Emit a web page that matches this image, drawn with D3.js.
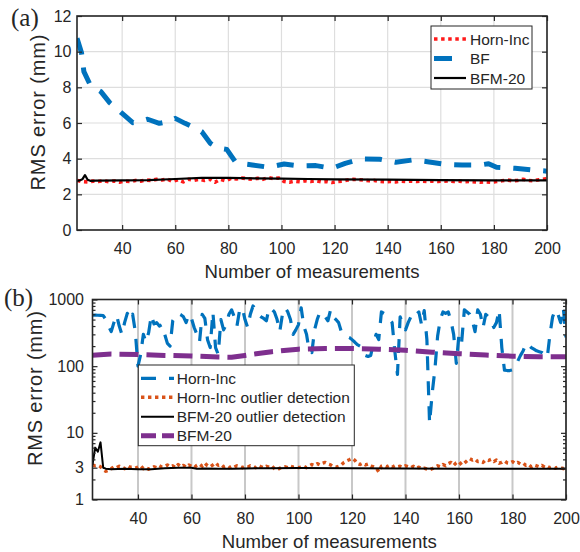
<!DOCTYPE html>
<html><head><meta charset="utf-8">
<script src="https://cdn.jsdelivr.net/npm/d3@7"></script>
<style>
html,body{margin:0;padding:0;background:#fff;}
svg{display:block;}
text{fill:#262626;}
</style></head><body>
<script>
// ---------------- DATA ----------------
// Panel (a)
const xTicksA = [40, 60, 80, 100, 120, 140, 160, 180, 200];
const yTicksA = [0, 2, 4, 6, 8, 10, 12];
const bfX = [23,24.7,25.6,28,32,35.3,40,44,46,49.6,54,58,60,63.7,67,70,73.2,76,79.4,82.6,86,89,95,101,107,113,119,124,130,137,143,149.5,155,162,168,175,178,181,188,194,200];
const bfY = [10.75,9.94,8.88,8.13,7.76,7.14,6.54,6.02,6.05,6.21,5.98,6.10,6.26,5.98,5.75,5.51,4.86,4.60,4.52,3.83,3.70,3.65,3.52,3.70,3.59,3.61,3.46,3.74,3.98,3.97,3.80,3.93,3.83,3.68,3.65,3.65,3.72,3.52,3.46,3.37,3.30];
const hornAX = [23,25,27,29,31,33,35,37,39,41,43,45,47,49,51,53,55,57,59,61,63,65,67,69,71,73,75,77,79,81,83,85,87,89,91,93,95,97,99,101,103,105,107,109,111,113,115,117,119,121,123,125,127,129,131,133,135,137,139,141,143,145,147,149,151,153,155,157,159,161,163,165,167,169,171,173,175,177,179,181,183,185,187,189,191,193,195,197,199,200];
const hornAY = [2.78,2.72,2.70,2.74,2.72,2.76,2.70,2.75,2.68,2.74,2.72,2.78,2.74,2.80,2.78,2.84,2.80,2.86,2.72,2.82,2.70,2.84,2.78,2.84,2.78,2.85,2.68,2.84,2.76,2.90,2.86,2.92,2.88,2.84,2.90,2.84,2.94,2.88,2.92,2.72,2.68,2.74,2.70,2.76,2.72,2.76,2.70,2.72,2.66,2.72,2.74,2.80,2.84,2.82,2.80,2.76,2.78,2.72,2.70,2.72,2.70,2.74,2.72,2.74,2.72,2.74,2.72,2.74,2.72,2.74,2.76,2.72,2.74,2.70,2.72,2.70,2.68,2.70,2.68,2.72,2.76,2.80,2.76,2.78,2.84,2.78,2.76,2.82,2.86,2.88];
const bfmAX = [23,24,25,26,27,28,30,40,50,60,70,80,90,100,110,120,140,160,180,200];
const bfmAY = [2.75,2.78,2.84,3.08,2.82,2.76,2.77,2.78,2.80,2.86,2.92,2.92,2.90,2.88,2.86,2.84,2.82,2.80,2.78,2.78];

// Panel (b)
const xTicksB = [40, 60, 80, 100, 120, 140, 160, 180, 200];
const yTicksB = [1, 3, 10, 100, 1000];
const yMinorB = [2,4,5,6,7,8,9,20,30,40,50,60,70,80,90,200,300,400,500,600,700,800,900];
const measStartB = 23; // first measurement index of the per-measurement series
const hornB = [
580,585,580,578,575,500,400,330,
450,580,400,300,450,620,500,600,330,100,
150,300,230,320,580,430,450,400,420,300,
220,200,480,550,620,590,550,450,600,520,
380,300,230,600,520,250,190,650,190,150,
500,350,420,600,700,550,400,700,750,500,
380,600,800,700,600,550,520,480,750,720,
650,500,330,600,750,650,500,300,350,420,
750,400,300,170,160,350,500,650,600,550,
480,700,550,500,450,330,300,280,270,250,
230,210,200,160,145,140,145,220,300,250,
650,620,550,500,450,170,75,550,420,350,
450,550,650,600,650,420,680,250,14,40,
90,280,500,650,620,650,480,300,110,300,
230,700,650,600,480,330,700,600,380,600,
550,500,380,450,700,190,87,86,86,88,
100,120,145,170,220,210,190,180,170,165,
160,150,135,300,550,700,600,450,750,270];
const hornOutB = [
3.3,3.2,3.25,3.1,2.8,2.65,2.75,2.9,
3.1,3.0,3.15,3.0,2.9,3.2,3.05,3.1,2.95,3.05,
3.2,2.9,3.0,2.85,2.95,3.1,3.0,3.2,3.05,3.15,
3.3,3.1,3.2,3.0,3.35,3.1,3.25,3.05,3.3,3.15,
3.0,3.25,3.4,3.15,3.5,3.2,3.1,3.3,3.55,3.25,
3.35,3.1,3.2,3.0,3.15,3.05,3.2,3.1,3.0,3.15,
3.05,3.2,3.1,3.0,3.25,3.1,3.0,3.15,3.05,3.2,
2.9,2.8,2.95,3.05,3.1,3.0,3.15,3.05,3.1,3.0,
3.05,3.15,3.0,3.2,3.35,3.25,3.45,3.3,3.5,3.6,
3.4,3.3,3.1,3.05,3.15,3.3,3.6,3.8,3.95,4.15,
3.9,3.45,3.35,3.5,3.3,3.4,3.15,3.1,3.0,2.6,
3.15,3.2,3.1,3.25,3.05,3.2,3.1,3.15,3.05,3.2,
3.1,3.0,3.15,2.95,3.05,2.9,2.95,2.85,2.8,2.9,
3.05,3.2,3.1,3.35,3.2,3.45,3.6,3.25,3.55,3.7,
3.3,3.5,3.8,4.1,3.9,4.05,3.7,3.75,3.6,3.95,
3.85,4.0,3.7,3.9,3.5,3.6,3.8,3.55,3.5,3.7,
3.45,3.6,3.4,3.5,3.25,3.35,3.1,3.3,3.2,3.1,
3.25,3.05,3.15,3.0,3.1,2.95,3.05,3.0,2.9,3.0];
const bfmOutX = [23,24,25,26,27,28,30,35,40,45,50,55,60,62,65,70,75,80,90,100,120,140,160,180,200];
const bfmOutY = [3.3,6.0,5.2,7.2,3.0,2.9,2.85,2.9,2.85,2.85,2.95,3.0,3.0,2.9,2.92,2.9,2.9,2.92,2.95,2.98,2.95,2.92,2.9,2.9,2.9];
const bfmBX = [23,30,40,50,60,70,75,80,90,100,110,120,130,140,150,160,170,180,190,200];
const bfmBY = [146,152,150,145,142,137,136,145,165,180,184,184,180,173,162,154,147,141,139,138];

// ---------------- DRAW ----------------
const SANS = '"Liberation Sans",Arial,Helvetica,sans-serif';
const SERIF = '"Liberation Serif","Times New Roman",serif';
const svg = d3.select("body").append("svg").attr("width",580).attr("height",552)
  .style("font-family", SANS);
svg.append("rect").attr("width",580).attr("height",552).attr("fill","#fff");
const AX = "#262626";
const toPts = (xs, ys) => xs.map((x,i)=>({x, y: ys[i]}));

function panel(id, box, x, y, xTicks, yTicks, gridY, gridStyle) {
  const g = svg.append("g");
  g.append("clipPath").attr("id", id).append("rect")
    .attr("x", box.l).attr("y", box.t).attr("width", box.r-box.l).attr("height", box.b-box.t);
  g.selectAll(null).data(xTicks).join("line")
    .attr("x1", d=>x(d)).attr("x2", d=>x(d)).attr("y1", box.t).attr("y2", box.b)
    .attr("stroke", gridStyle.c).attr("stroke-width", gridStyle.w);
  if (gridY) g.selectAll(null).data(yTicks).join("line")
    .attr("y1", d=>y(d)).attr("y2", d=>y(d)).attr("x1", box.l).attr("x2", box.r)
    .attr("stroke", gridStyle.c).attr("stroke-width", gridStyle.w);
  return g;
}
function frame(box, x, y, xTicks, yTicks, yPad, yFmt, yMinor) {
  const g = svg.append("g").style("color", AX);
  g.append("g").attr("transform",`translate(0,${box.b})`).call(d3.axisBottom(x).tickValues(xTicks).tickSize(-5).tickPadding(13));
  g.append("g").attr("transform",`translate(0,${box.t})`).call(d3.axisTop(x).tickValues(xTicks).tickSize(-5).tickFormat(""));
  g.append("g").attr("transform",`translate(${box.l},0)`).call(d3.axisLeft(y).tickValues(yTicks).tickSize(-5).tickPadding(yPad).tickFormat(yFmt));
  g.append("g").attr("transform",`translate(${box.r},0)`).call(d3.axisRight(y).tickValues(yTicks).tickSize(-5).tickFormat(""));
  if (yMinor) {
    g.append("g").attr("transform",`translate(${box.l},0)`).call(d3.axisLeft(y).tickValues(yMinor).tickSize(-3).tickFormat(""));
    g.append("g").attr("transform",`translate(${box.r},0)`).call(d3.axisRight(y).tickValues(yMinor).tickSize(-3).tickFormat(""));
  }
  g.selectAll(".domain").remove();
  g.selectAll(".tick line").attr("stroke-width", 1.2);
  g.selectAll(".tick text").attr("font-size", 16).attr("fill", AX).style("font-family", SANS);
  g.append("rect").attr("x", box.l).attr("y", box.t).attr("width", box.r-box.l).attr("height", box.b-box.t)
    .attr("fill","none").attr("stroke", AX).attr("stroke-width", 1.6);
}
function series(pts, x, y, clip, color, width, dash) {
  const line = d3.line().x(d=>x(d.x)).y(d=>y(d.y));
  svg.append("path").datum(pts).attr("clip-path", `url(#${clip})`)
    .attr("d", line).attr("fill","none").attr("stroke", color).attr("stroke-width", width)
    .attr("stroke-dasharray", dash || null).attr("stroke-linejoin","round");
}
function legend(box, rowsY, sx1, sx2, tx, items) {
  const g = svg.append("g");
  g.append("rect").attr("x", box.x).attr("y", box.y).attr("width", box.w).attr("height", box.h)
    .attr("fill","#fff").attr("stroke", AX).attr("stroke-width", 1);
  items.forEach((it,i)=>{
    g.append("line").attr("x1", sx1).attr("x2", sx2).attr("y1", rowsY[i]).attr("y2", rowsY[i])
      .attr("stroke", it.c).attr("stroke-width", it.w).attr("stroke-dasharray", it.d || null);
    g.append("text").attr("x", tx).attr("y", rowsY[i]).attr("dy","0.36em").attr("font-size", 15.5).text(it.t);
  });
}

// ----- Panel (a)
const A = {l:77, r:547, t:16, b:230};
const xA = d3.scaleLinear().domain([23,200]).range([A.l, A.r]);
const yA = d3.scaleLinear().domain([0,12]).range([A.b, A.t]);
panel("clipA", A, xA, yA, xTicksA, yTicksA, true, {c:"#dedede", w:1.2});
series(toPts(hornAX, hornAY), xA, yA, "clipA", "#ff1a1a", 3.6, "3.5,3.6");
series(toPts(bfX, bfY), xA, yA, "clipA", "#0072BD", 5, "17,13");
series(toPts(bfmAX, bfmAY), xA, yA, "clipA", "#000", 2.2);
frame(A, xA, yA, xTicksA, yTicksA, 5.5, d3.format("d"));
legend({x:431, y:26, w:101, h:63}, [39, 58.5, 78], 434, 466, 470, [
  {t:"Horn-Inc", c:"#ff1a1a", w:3.6, d:"3.5,3.6"},
  {t:"BF", c:"#0072BD", w:5, d:"18,40"},
  {t:"BFM-20", c:"#000", w:2.2}
]);
svg.append("text").attr("x", (A.l+A.r)/2).attr("y", 278).attr("text-anchor","middle").attr("font-size", 18.6).text("Number of measurements");
svg.append("text").attr("transform","translate(45,112.5) rotate(-90)").attr("text-anchor","middle")
  .attr("font-size", 20).attr("textLength", 156).attr("lengthAdjust","spacing").text("RMS error (mm)");
svg.append("text").attr("x", 11).attr("y", 26).attr("font-size", 25)
  .style("font-family", SERIF).attr("fill","#000").text("(a)");

// ----- Panel (b)
const B = {l:92.5, r:566, t:299.5, b:499.5};
const xB = d3.scaleLinear().domain([23,200]).range([B.l, B.r]);
const yB = d3.scaleLog().domain([1,1000]).range([B.b, B.t]);
panel("clipB", B, xB, yB, xTicksB, yTicksB, false, {c:"#c8c8c8", w:2});
const perMeas = arr => arr.map((v,i)=>({x: measStartB + i, y: v}));
series(perMeas(hornB), xB, yB, "clipB", "#0072BD", 3.2, "14,11");
series(perMeas(hornOutB), xB, yB, "clipB", "#D95319", 3.4, "3.4,3.6");
series(toPts(bfmOutX, bfmOutY), xB, yB, "clipB", "#000", 2);
series(toPts(bfmBX, bfmBY), xB, yB, "clipB", "#7E2F8E", 5, "19,8");
frame(B, xB, yB, xTicksB, yTicksB, 8.5, d3.format("d"), yMinorB);
legend({x:138.3, y:365, w:216, h:80.7}, [378.3, 397.3, 416.7, 435.7], 141, 174, 176.7, [
  {t:"Horn-Inc", c:"#0072BD", w:3.2, d:"15,13"},
  {t:"Horn-Inc outlier detection", c:"#D95319", w:3.4, d:"3.4,3.6"},
  {t:"BFM-20 outlier detection", c:"#000", w:2},
  {t:"BFM-20", c:"#7E2F8E", w:5, d:"15,6"}
]);
svg.append("text").attr("x", (B.l+B.r)/2).attr("y", 548).attr("text-anchor","middle").attr("font-size", 18.6).text("Number of measurements");
svg.append("text").attr("transform","translate(41.7,388.5) rotate(-90)").attr("text-anchor","middle")
  .attr("font-size", 20).attr("textLength", 155).attr("lengthAdjust","spacing").text("RMS error (mm)");
svg.append("text").attr("x", 4).attr("y", 306).attr("font-size", 25)
  .style("font-family", SERIF).attr("fill","#000").text("(b)");
</script>
</body></html>
